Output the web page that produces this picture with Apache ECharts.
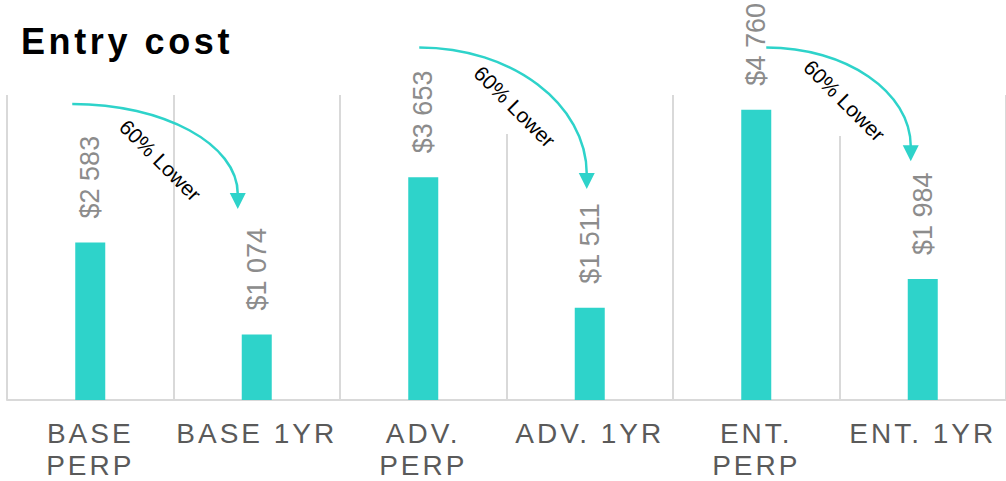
<!DOCTYPE html>
<html>
<head>
<meta charset="utf-8">
<script src="https://cdn.jsdelivr.net/npm/echarts@6/dist/echarts.min.js"></script>
<style>
html,body{margin:0;padding:0;background:#fff;}
#main{width:1006px;height:481px;}
#main svg text[fill="#5a5a5a"]{letter-spacing:3px;}
#main svg text[fill="#000001"]{letter-spacing:3.6px;}
</style>
</head>
<body>
<div id="main"></div>
<script>
// ---- data ----
const categories = ['BASE\nPERP', 'BASE 1YR', 'ADV.\nPERP', 'ADV. 1YR', 'ENT.\nPERP', 'ENT. 1YR'];
const costs = [2583, 1074, 3653, 1511, 4760, 1984];
const costLabels = ['$2 583', '$1 074', '$3 653', '$1 511', '$4 760', '$1 984'];
// annotation arrows: from category index -> to category index, anchor heights in value units
const arrowFromIdx = [0, 2, 4];
const arrowToIdx = [1, 3, 5];
const arrowFromValue = [4854, 5779, 5779];
const arrowToValue = [3133, 3458, 3912];
const arrowText = ['60% Lower', '60% Lower', '60% Lower'];
// pixel nudges (style)
const arrowFromDx = [-18, -4, 10];
const arrowToDx = [-19, -3, -12];
const textDx = [-2, 4, 3];
const textDy = [8, 0, 2];
const gridGapLen = [0, 39, 41];

const teal = '#2ed3ca';
const chart = echarts.init(document.getElementById('main'), null, {renderer: 'svg'});

const option = {
  animation: false,
  title: {
    text: 'Entry cost',
    left: 16, top: 18,
    textStyle: {fontFamily: 'Liberation Sans, Arial, sans-serif', fontWeight: 'bold', fontSize: 36, color: '#000001'}
  },
  grid: {left: 7, top: 95, width: 1002, bottom: 78, containLabel: false},
  xAxis: {
    type: 'category',
    data: categories,
    boundaryGap: true,
    axisLine: {show: true, lineStyle: {color: '#d9d9d9', width: 2}},
    axisTick: {show: false},
    splitLine: {show: true, lineStyle: {color: '#d9d9d9', width: 2}},
    axisLabel: {
      interval: 0, margin: 17,
      fontFamily: 'Liberation Sans, Arial, sans-serif', fontSize: 28, lineHeight: 32,
      color: '#5a5a5a'
    }
  },
  yAxis: {
    type: 'value', min: 0, max: 5000,
    show: false, splitLine: {show: false}
  },
  series: [{
    type: 'bar',
    data: costs,
    barWidth: 30,
    itemStyle: {color: teal},
    label: {
      show: true, position: 'top', rotate: 90, distance: 24,
      align: 'left', verticalAlign: 'middle',
      fontFamily: 'Liberation Sans, Arial, sans-serif', fontSize: 27, color: '#8c8c8c',
      formatter: p => costLabels[p.dataIndex]
    }
  }]
};
chart.setOption(option);

function buildArrows() {
  const els = [];
  const k = 0.5523;
  const gridTop = chart.convertToPixel({gridIndex: 0}, [0, 5000])[1];
  for (let i = 0; i < arrowFromIdx.length; i++) {
    const p0 = chart.convertToPixel({gridIndex: 0}, [arrowFromIdx[i], arrowFromValue[i]]);
    const p1 = chart.convertToPixel({gridIndex: 0}, [arrowToIdx[i], arrowToValue[i]]);
    const pRight = chart.convertToPixel({gridIndex: 0}, [arrowToIdx[i], 0]);
    const halfBand = (pRight[0] - chart.convertToPixel({gridIndex: 0}, [arrowFromIdx[i], 0])[0]) / 2;
    if (gridGapLen[i] > 0) {
      const bx = pRight[0] - halfBand;
      els.push({
        type: 'rect', z: 5,
        shape: {x: bx - 2, y: gridTop - 1, width: 4, height: gridGapLen[i] + 1},
        style: {fill: '#ffffff'}
      });
    }
    const x0 = p0[0] + arrowFromDx[i], y0 = p0[1];
    const tipX = p1[0] + arrowToDx[i], tipY = p1[1];
    const headLen = 15, headW = 8;
    const endY = tipY - headLen;
    const rx = tipX - x0, ry = endY - y0;
    els.push({
      type: 'bezierCurve', z: 10,
      shape: {
        x1: x0, y1: y0,
        cpx1: x0 + k * rx, cpy1: y0,
        cpx2: tipX, cpy2: endY - k * ry,
        x2: tipX, y2: endY
      },
      style: {fill: null, stroke: teal, lineWidth: 2.5}
    });
    els.push({
      type: 'polygon', z: 10,
      shape: {points: [[tipX - headW, endY - 1], [tipX + headW, endY - 1], [tipX, tipY]]},
      style: {fill: teal}
    });
    const ex = x0 + rx * 0.7071, ey = endY - ry * 0.7071;
    els.push({
      type: 'text', z: 11,
      x: ex - 27 + textDx[i], y: ey + 22 + textDy[i],
      rotation: -Math.PI / 4,
      style: {
        text: arrowText[i], fill: '#000', fontSize: 21,
        fontFamily: 'Liberation Sans, Arial, sans-serif',
        align: 'center', verticalAlign: 'middle'
      }
    });
  }
  chart.setOption({graphic: {elements: els}});
}
buildArrows();
</script>
</body>
</html>
